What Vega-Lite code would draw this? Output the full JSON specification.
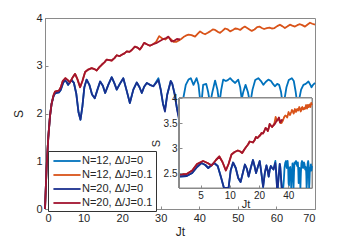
{
"$schema": "https://vega.github.io/schema/vega-lite/v6.json",
"width": 270, "height": 191,
"autosize": {"type": "none"},
"padding": {"left": 45, "top": 18, "right": 34, "bottom": 35},
"background": "white",
"config": {
  "font": "Liberation Sans",
  "view": {"stroke": "#8a8a8a", "strokeWidth": 1},
  "axis": {"grid": false, "domainColor": "#8a8a8a", "tickColor": "#8a8a8a", "labelColor": "#262626", "titleColor": "#262626", "labelFont": "Liberation Sans", "titleFont": "Liberation Sans", "titleFontWeight": "normal", "labelFontSize": 11, "titleFontSize": 12},
  "legend": {"orient": "none", "legendX": 3, "legendY": 133, "strokeColor": "#333333", "fillColor": "white", "padding": 3, "rowPadding": 2, "labelFontSize": 11, "labelColor": "#262626", "labelFont": "Liberation Sans", "symbolType": "M-2.4,0L2.4,0", "symbolSize": 128, "symbolOffset": 9, "labelOffset": 8}
},
"datasets": {
"d": [
{"series":"N=12, Δ/J=0","t":0,"S":0},{"series":"N=12, Δ/J=0","t":0.4,"S":0.85},{"series":"N=12, Δ/J=0","t":0.85,"S":1.5},{"series":"N=12, Δ/J=0","t":1.3,"S":1.95},{"series":"N=12, Δ/J=0","t":1.7,"S":2.2},{"series":"N=12, Δ/J=0","t":2.2,"S":2.36},{"series":"N=12, Δ/J=0","t":2.6,"S":2.42},{"series":"N=12, Δ/J=0","t":3,"S":2.43},{"series":"N=12, Δ/J=0","t":3.6,"S":2.44},{"series":"N=12, Δ/J=0","t":4.1,"S":2.5},{"series":"N=12, Δ/J=0","t":4.6,"S":2.62},{"series":"N=12, Δ/J=0","t":5.1,"S":2.7},{"series":"N=12, Δ/J=0","t":5.6,"S":2.66},{"series":"N=12, Δ/J=0","t":6,"S":2.6},{"series":"N=12, Δ/J=0","t":6.5,"S":2.66},{"series":"N=12, Δ/J=0","t":6.9,"S":2.7},{"series":"N=12, Δ/J=0","t":7.5,"S":2.64},{"series":"N=12, Δ/J=0","t":8.1,"S":2.42},{"series":"N=12, Δ/J=0","t":8.7,"S":2.02},{"series":"N=12, Δ/J=0","t":9.2,"S":1.87},{"series":"N=12, Δ/J=0","t":9.7,"S":2.15},{"series":"N=12, Δ/J=0","t":10.2,"S":2.55},{"series":"N=12, Δ/J=0","t":10.8,"S":2.71},{"series":"N=12, Δ/J=0","t":11.5,"S":2.6},{"series":"N=12, Δ/J=0","t":12.2,"S":2.4},{"series":"N=12, Δ/J=0","t":12.9,"S":2.32},{"series":"N=12, Δ/J=0","t":13.6,"S":2.5},{"series":"N=12, Δ/J=0","t":14.3,"S":2.67},{"series":"N=12, Δ/J=0","t":15,"S":2.58},{"series":"N=12, Δ/J=0","t":15.6,"S":2.43},{"series":"N=12, Δ/J=0","t":16.4,"S":2.6},{"series":"N=12, Δ/J=0","t":17.3,"S":2.76},{"series":"N=12, Δ/J=0","t":18,"S":2.63},{"series":"N=12, Δ/J=0","t":18.6,"S":2.5},{"series":"N=12, Δ/J=0","t":19.4,"S":2.62},{"series":"N=12, Δ/J=0","t":20.3,"S":2.74},{"series":"N=12, Δ/J=0","t":21.1,"S":2.5},{"series":"N=12, Δ/J=0","t":22,"S":2.22},{"series":"N=12, Δ/J=0","t":22.9,"S":2.5},{"series":"N=12, Δ/J=0","t":23.8,"S":2.65},{"series":"N=12, Δ/J=0","t":24.5,"S":2.55},{"series":"N=12, Δ/J=0","t":25.1,"S":2.43},{"series":"N=12, Δ/J=0","t":25.7,"S":2.56},{"series":"N=12, Δ/J=0","t":26.4,"S":2.64},{"series":"N=12, Δ/J=0","t":27.2,"S":2.6},{"series":"N=12, Δ/J=0","t":28.1,"S":2.57},
{"series":"N=12, Δ/J=0","t":28.8,"S":2.66},{"series":"N=12, Δ/J=0","t":29.4,"S":2.74},{"series":"N=12, Δ/J=0","t":30,"S":2.5},{"series":"N=12, Δ/J=0","t":30.6,"S":2.2},{"series":"N=12, Δ/J=0","t":31.1,"S":2.08},{"series":"N=12, Δ/J=0","t":31.7,"S":2.4},{"series":"N=12, Δ/J=0","t":32.6,"S":2.68},{"series":"N=12, Δ/J=0","t":33,"S":2.62},{"series":"N=12, Δ/J=0","t":33.6,"S":2.42},{"series":"N=12, Δ/J=0","t":34.2,"S":2.12},{"series":"N=12, Δ/J=0","t":34.8,"S":1.9},{"series":"N=12, Δ/J=0","t":35.4,"S":2.1},{"series":"N=12, Δ/J=0","t":35.9,"S":2.34},{"series":"N=12, Δ/J=0","t":36.5,"S":2.6},{"series":"N=12, Δ/J=0","t":37.2,"S":2.71},{"series":"N=12, Δ/J=0","t":37.8,"S":2.74},{"series":"N=12, Δ/J=0","t":38.5,"S":2.6},{"series":"N=12, Δ/J=0","t":39.3,"S":2.74},{"series":"N=12, Δ/J=0","t":39.8,"S":2.6},{"series":"N=12, Δ/J=0","t":40.2,"S":2.3},{"series":"N=12, Δ/J=0","t":40.6,"S":2.25},{"series":"N=12, Δ/J=0","t":41,"S":2.6},{"series":"N=12, Δ/J=0","t":41.8,"S":2.62},{"series":"N=12, Δ/J=0","t":42.3,"S":2.45},{"series":"N=12, Δ/J=0","t":42.8,"S":2.2},{"series":"N=12, Δ/J=0","t":43.4,"S":2.45},{"series":"N=12, Δ/J=0","t":44.1,"S":2.69},{"series":"N=12, Δ/J=0","t":44.7,"S":2.5},{"series":"N=12, Δ/J=0","t":45.2,"S":2.2},{"series":"N=12, Δ/J=0","t":45.7,"S":2.5},{"series":"N=12, Δ/J=0","t":46.2,"S":2.71},{"series":"N=12, Δ/J=0","t":46.9,"S":2.68},{"series":"N=12, Δ/J=0","t":47.4,"S":2.7},{"series":"N=12, Δ/J=0","t":48,"S":2.74},{"series":"N=12, Δ/J=0","t":48.7,"S":2.68},{"series":"N=12, Δ/J=0","t":49.3,"S":2.64},{"series":"N=12, Δ/J=0","t":50.1,"S":2.71},{"series":"N=12, Δ/J=0","t":50.6,"S":2.55},{"series":"N=12, Δ/J=0","t":51,"S":2.3},{"series":"N=12, Δ/J=0","t":51.4,"S":2.45},{"series":"N=12, Δ/J=0","t":52,"S":2.6},{"series":"N=12, Δ/J=0","t":52.6,"S":2.45},{"series":"N=12, Δ/J=0","t":53.2,"S":2.2},{"series":"N=12, Δ/J=0","t":53.8,"S":2.5},{"series":"N=12, Δ/J=0","t":54.5,"S":2.7},{"series":"N=12, Δ/J=0","t":55.3,"S":2.74},{"series":"N=12, Δ/J=0","t":56,"S":2.68},{"series":"N=12, Δ/J=0","t":56.6,"S":2.6},{"series":"N=12, Δ/J=0","t":57.2,"S":2.66},{"series":"N=12, Δ/J=0","t":57.9,"S":2.71},{"series":"N=12, Δ/J=0","t":58.6,"S":2.68},{"series":"N=12, Δ/J=0","t":59.1,"S":2.62},{"series":"N=12, Δ/J=0","t":59.6,"S":2.57},{"series":"N=12, Δ/J=0","t":60.2,"S":2.62},{"series":"N=12, Δ/J=0","t":60.7,"S":2.6},{"series":"N=12, Δ/J=0","t":61.2,"S":2.45},{"series":"N=12, Δ/J=0","t":61.6,"S":2.2},{"series":"N=12, Δ/J=0","t":62.1,"S":2.3},{"series":"N=12, Δ/J=0","t":62.6,"S":2.55},{"series":"N=12, Δ/J=0","t":63.2,"S":2.7},{"series":"N=12, Δ/J=0","t":64,"S":2.74},{"series":"N=12, Δ/J=0","t":64.5,"S":2.68},{"series":"N=12, Δ/J=0","t":65,"S":2.45},{"series":"N=12, Δ/J=0","t":65.4,"S":2.2},{"series":"N=12, Δ/J=0","t":65.9,"S":2.3},{"series":"N=12, Δ/J=0","t":66.4,"S":2.5},{"series":"N=12, Δ/J=0","t":67,"S":2.6},{"series":"N=12, Δ/J=0","t":67.6,"S":2.62},{"series":"N=12, Δ/J=0","t":68.3,"S":2.67},{"series":"N=12, Δ/J=0","t":68.8,"S":2.6},{"series":"N=12, Δ/J=0","t":69.1,"S":2.55},{"series":"N=12, Δ/J=0","t":69.5,"S":2.6},{"series":"N=12, Δ/J=0","t":70,"S":2.64},

{"series":"N=12, Δ/J=0.1","t":0,"S":0},{"series":"N=12, Δ/J=0.1","t":0.4,"S":0.85},{"series":"N=12, Δ/J=0.1","t":0.85,"S":1.5},{"series":"N=12, Δ/J=0.1","t":1.3,"S":1.95},{"series":"N=12, Δ/J=0.1","t":1.7,"S":2.2},{"series":"N=12, Δ/J=0.1","t":2.2,"S":2.38},{"series":"N=12, Δ/J=0.1","t":2.6,"S":2.46},{"series":"N=12, Δ/J=0.1","t":3,"S":2.47},{"series":"N=12, Δ/J=0.1","t":3.6,"S":2.48},{"series":"N=12, Δ/J=0.1","t":4.1,"S":2.55},{"series":"N=12, Δ/J=0.1","t":4.6,"S":2.68},{"series":"N=12, Δ/J=0.1","t":5.3,"S":2.74},{"series":"N=12, Δ/J=0.1","t":5.9,"S":2.7},{"series":"N=12, Δ/J=0.1","t":6.5,"S":2.65},{"series":"N=12, Δ/J=0.1","t":7.2,"S":2.76},{"series":"N=12, Δ/J=0.1","t":7.8,"S":2.83},{"series":"N=12, Δ/J=0.1","t":8.4,"S":2.72},{"series":"N=12, Δ/J=0.1","t":9.1,"S":2.55},{"series":"N=12, Δ/J=0.1","t":9.7,"S":2.68},{"series":"N=12, Δ/J=0.1","t":10.4,"S":2.87},{"series":"N=12, Δ/J=0.1","t":11.2,"S":2.92},{"series":"N=12, Δ/J=0.1","t":12.1,"S":2.95},{"series":"N=12, Δ/J=0.1","t":12.8,"S":2.93},{"series":"N=12, Δ/J=0.1","t":13.4,"S":2.9},{"series":"N=12, Δ/J=0.1","t":14.1,"S":2.97},{"series":"N=12, Δ/J=0.1","t":14.7,"S":3.02},{"series":"N=12, Δ/J=0.1","t":15.4,"S":3.07},{"series":"N=12, Δ/J=0.1","t":16,"S":3.13},{"series":"N=12, Δ/J=0.1","t":16.7,"S":3.12},{"series":"N=12, Δ/J=0.1","t":17.3,"S":3.11},{"series":"N=12, Δ/J=0.1","t":18,"S":3.16},{"series":"N=12, Δ/J=0.1","t":18.6,"S":3.22},{"series":"N=12, Δ/J=0.1","t":19.3,"S":3.2},{"series":"N=12, Δ/J=0.1","t":19.9,"S":3.23},{"series":"N=12, Δ/J=0.1","t":20.6,"S":3.26},{"series":"N=12, Δ/J=0.1","t":21.2,"S":3.3},{"series":"N=12, Δ/J=0.1","t":21.9,"S":3.29},{"series":"N=12, Δ/J=0.1","t":22.5,"S":3.33},{"series":"N=12, Δ/J=0.1","t":23.3,"S":3.4},{"series":"N=12, Δ/J=0.1","t":24,"S":3.38},{"series":"N=12, Δ/J=0.1","t":24.6,"S":3.34},{"series":"N=12, Δ/J=0.1","t":25.2,"S":3.41},{"series":"N=12, Δ/J=0.1","t":25.7,"S":3.48},{"series":"N=12, Δ/J=0.1","t":26.4,"S":3.45},{"series":"N=12, Δ/J=0.1","t":27.2,"S":3.42},{"series":"N=12, Δ/J=0.1","t":28,"S":3.45},
{"series":"N=12, Δ/J=0.1","t":28.8,"S":3.5},{"series":"N=12, Δ/J=0.1","t":29.6,"S":3.62},{"series":"N=12, Δ/J=0.1","t":30.4,"S":3.57},{"series":"N=12, Δ/J=0.1","t":31.2,"S":3.55},{"series":"N=12, Δ/J=0.1","t":32,"S":3.6},{"series":"N=12, Δ/J=0.1","t":32.7,"S":3.55},{"series":"N=12, Δ/J=0.1","t":33.3,"S":3.5},{"series":"N=12, Δ/J=0.1","t":34,"S":3.5},{"series":"N=12, Δ/J=0.1","t":34.7,"S":3.53},{"series":"N=12, Δ/J=0.1","t":35.3,"S":3.56},{"series":"N=12, Δ/J=0.1","t":35.9,"S":3.6},{"series":"N=12, Δ/J=0.1","t":36.5,"S":3.63},{"series":"N=12, Δ/J=0.1","t":37.2,"S":3.65},{"series":"N=12, Δ/J=0.1","t":38,"S":3.64},{"series":"N=12, Δ/J=0.1","t":38.9,"S":3.61},{"series":"N=12, Δ/J=0.1","t":39.5,"S":3.66},{"series":"N=12, Δ/J=0.1","t":40.2,"S":3.72},{"series":"N=12, Δ/J=0.1","t":40.9,"S":3.68},{"series":"N=12, Δ/J=0.1","t":41.5,"S":3.66},{"series":"N=12, Δ/J=0.1","t":42.2,"S":3.69},{"series":"N=12, Δ/J=0.1","t":42.8,"S":3.72},{"series":"N=12, Δ/J=0.1","t":43.5,"S":3.76},{"series":"N=12, Δ/J=0.1","t":44.1,"S":3.75},{"series":"N=12, Δ/J=0.1","t":44.8,"S":3.71},{"series":"N=12, Δ/J=0.1","t":45.4,"S":3.69},{"series":"N=12, Δ/J=0.1","t":46,"S":3.73},{"series":"N=12, Δ/J=0.1","t":46.7,"S":3.78},{"series":"N=12, Δ/J=0.1","t":47.4,"S":3.76},{"series":"N=12, Δ/J=0.1","t":48,"S":3.72},{"series":"N=12, Δ/J=0.1","t":48.7,"S":3.75},{"series":"N=12, Δ/J=0.1","t":49.3,"S":3.78},{"series":"N=12, Δ/J=0.1","t":50,"S":3.77},{"series":"N=12, Δ/J=0.1","t":50.6,"S":3.75},{"series":"N=12, Δ/J=0.1","t":51.2,"S":3.79},{"series":"N=12, Δ/J=0.1","t":51.8,"S":3.82},{"series":"N=12, Δ/J=0.1","t":52.4,"S":3.79},{"series":"N=12, Δ/J=0.1","t":53,"S":3.76},{"series":"N=12, Δ/J=0.1","t":53.6,"S":3.73},{"series":"N=12, Δ/J=0.1","t":54.3,"S":3.76},{"series":"N=12, Δ/J=0.1","t":55,"S":3.81},{"series":"N=12, Δ/J=0.1","t":55.6,"S":3.82},{"series":"N=12, Δ/J=0.1","t":56.2,"S":3.79},{"series":"N=12, Δ/J=0.1","t":56.8,"S":3.77},{"series":"N=12, Δ/J=0.1","t":57.5,"S":3.79},{"series":"N=12, Δ/J=0.1","t":58.2,"S":3.8},{"series":"N=12, Δ/J=0.1","t":58.8,"S":3.78},{"series":"N=12, Δ/J=0.1","t":59.5,"S":3.79},{"series":"N=12, Δ/J=0.1","t":60.2,"S":3.83},{"series":"N=12, Δ/J=0.1","t":60.9,"S":3.86},{"series":"N=12, Δ/J=0.1","t":61.5,"S":3.83},{"series":"N=12, Δ/J=0.1","t":62.2,"S":3.79},{"series":"N=12, Δ/J=0.1","t":62.8,"S":3.82},{"series":"N=12, Δ/J=0.1","t":63.5,"S":3.86},{"series":"N=12, Δ/J=0.1","t":64.1,"S":3.84},{"series":"N=12, Δ/J=0.1","t":64.8,"S":3.82},{"series":"N=12, Δ/J=0.1","t":65.4,"S":3.85},{"series":"N=12, Δ/J=0.1","t":66.1,"S":3.87},{"series":"N=12, Δ/J=0.1","t":66.7,"S":3.85},{"series":"N=12, Δ/J=0.1","t":67.4,"S":3.82},{"series":"N=12, Δ/J=0.1","t":68,"S":3.86},{"series":"N=12, Δ/J=0.1","t":68.7,"S":3.9},{"series":"N=12, Δ/J=0.1","t":69.3,"S":3.88},{"series":"N=12, Δ/J=0.1","t":70,"S":3.86},

{"series":"N=20, Δ/J=0","t":0,"S":0},{"series":"N=20, Δ/J=0","t":0.4,"S":0.85},{"series":"N=20, Δ/J=0","t":0.85,"S":1.5},{"series":"N=20, Δ/J=0","t":1.3,"S":1.95},{"series":"N=20, Δ/J=0","t":1.7,"S":2.2},{"series":"N=20, Δ/J=0","t":2.2,"S":2.36},{"series":"N=20, Δ/J=0","t":2.6,"S":2.42},{"series":"N=20, Δ/J=0","t":3,"S":2.43},{"series":"N=20, Δ/J=0","t":3.6,"S":2.44},{"series":"N=20, Δ/J=0","t":4.1,"S":2.5},{"series":"N=20, Δ/J=0","t":4.6,"S":2.62},{"series":"N=20, Δ/J=0","t":5.1,"S":2.7},{"series":"N=20, Δ/J=0","t":5.6,"S":2.66},{"series":"N=20, Δ/J=0","t":6,"S":2.6},{"series":"N=20, Δ/J=0","t":6.5,"S":2.66},{"series":"N=20, Δ/J=0","t":6.9,"S":2.7},{"series":"N=20, Δ/J=0","t":7.5,"S":2.64},{"series":"N=20, Δ/J=0","t":8.1,"S":2.42},{"series":"N=20, Δ/J=0","t":8.7,"S":2.02},{"series":"N=20, Δ/J=0","t":9.2,"S":1.87},{"series":"N=20, Δ/J=0","t":9.7,"S":2.15},{"series":"N=20, Δ/J=0","t":10.2,"S":2.55},{"series":"N=20, Δ/J=0","t":10.8,"S":2.71},{"series":"N=20, Δ/J=0","t":11.5,"S":2.6},{"series":"N=20, Δ/J=0","t":12.2,"S":2.4},{"series":"N=20, Δ/J=0","t":12.9,"S":2.32},{"series":"N=20, Δ/J=0","t":13.6,"S":2.5},{"series":"N=20, Δ/J=0","t":14.3,"S":2.67},{"series":"N=20, Δ/J=0","t":15,"S":2.58},{"series":"N=20, Δ/J=0","t":15.6,"S":2.43},{"series":"N=20, Δ/J=0","t":16.4,"S":2.6},{"series":"N=20, Δ/J=0","t":17.3,"S":2.76},{"series":"N=20, Δ/J=0","t":18,"S":2.63},{"series":"N=20, Δ/J=0","t":18.6,"S":2.5},{"series":"N=20, Δ/J=0","t":19.4,"S":2.62},{"series":"N=20, Δ/J=0","t":20.3,"S":2.74},{"series":"N=20, Δ/J=0","t":21.1,"S":2.5},{"series":"N=20, Δ/J=0","t":22,"S":2.22},{"series":"N=20, Δ/J=0","t":22.9,"S":2.5},{"series":"N=20, Δ/J=0","t":23.8,"S":2.65},{"series":"N=20, Δ/J=0","t":24.5,"S":2.55},{"series":"N=20, Δ/J=0","t":25.1,"S":2.43},{"series":"N=20, Δ/J=0","t":25.7,"S":2.56},{"series":"N=20, Δ/J=0","t":26.4,"S":2.64},{"series":"N=20, Δ/J=0","t":27.2,"S":2.6},{"series":"N=20, Δ/J=0","t":28.1,"S":2.57},{"series":"N=20, Δ/J=0","t":28.8,"S":2.64},{"series":"N=20, Δ/J=0","t":29.4,"S":2.7},{"series":"N=20, Δ/J=0","t":30,"S":2.5},{"series":"N=20, Δ/J=0","t":30.6,"S":2.2},{"series":"N=20, Δ/J=0","t":31.1,"S":2.04},{"series":"N=20, Δ/J=0","t":31.7,"S":2.4},{"series":"N=20, Δ/J=0","t":32.6,"S":2.68},{"series":"N=20, Δ/J=0","t":33,"S":2.62},{"series":"N=20, Δ/J=0","t":33.6,"S":2.4},{"series":"N=20, Δ/J=0","t":34.2,"S":2.1},{"series":"N=20, Δ/J=0","t":34.8,"S":1.85},{"series":"N=20, Δ/J=0","t":35.2,"S":1.9},

{"series":"N=20, Δ/J=0.1","t":0,"S":0},{"series":"N=20, Δ/J=0.1","t":0.4,"S":0.85},{"series":"N=20, Δ/J=0.1","t":0.85,"S":1.5},{"series":"N=20, Δ/J=0.1","t":1.3,"S":1.95},{"series":"N=20, Δ/J=0.1","t":1.7,"S":2.2},{"series":"N=20, Δ/J=0.1","t":2.2,"S":2.38},{"series":"N=20, Δ/J=0.1","t":2.6,"S":2.46},{"series":"N=20, Δ/J=0.1","t":3,"S":2.47},{"series":"N=20, Δ/J=0.1","t":3.6,"S":2.48},{"series":"N=20, Δ/J=0.1","t":4.1,"S":2.55},{"series":"N=20, Δ/J=0.1","t":4.6,"S":2.68},{"series":"N=20, Δ/J=0.1","t":5.3,"S":2.74},{"series":"N=20, Δ/J=0.1","t":5.9,"S":2.7},{"series":"N=20, Δ/J=0.1","t":6.5,"S":2.65},{"series":"N=20, Δ/J=0.1","t":7.2,"S":2.76},{"series":"N=20, Δ/J=0.1","t":7.8,"S":2.83},{"series":"N=20, Δ/J=0.1","t":8.4,"S":2.72},{"series":"N=20, Δ/J=0.1","t":9.1,"S":2.55},{"series":"N=20, Δ/J=0.1","t":9.7,"S":2.68},{"series":"N=20, Δ/J=0.1","t":10.4,"S":2.87},{"series":"N=20, Δ/J=0.1","t":11.2,"S":2.92},{"series":"N=20, Δ/J=0.1","t":12.1,"S":2.95},{"series":"N=20, Δ/J=0.1","t":12.8,"S":2.93},{"series":"N=20, Δ/J=0.1","t":13.4,"S":2.9},{"series":"N=20, Δ/J=0.1","t":14.1,"S":2.97},{"series":"N=20, Δ/J=0.1","t":14.7,"S":3.02},{"series":"N=20, Δ/J=0.1","t":15.4,"S":3.07},{"series":"N=20, Δ/J=0.1","t":16,"S":3.13},{"series":"N=20, Δ/J=0.1","t":16.7,"S":3.12},{"series":"N=20, Δ/J=0.1","t":17.3,"S":3.11},{"series":"N=20, Δ/J=0.1","t":18,"S":3.16},{"series":"N=20, Δ/J=0.1","t":18.6,"S":3.22},{"series":"N=20, Δ/J=0.1","t":19.3,"S":3.2},{"series":"N=20, Δ/J=0.1","t":19.9,"S":3.23},{"series":"N=20, Δ/J=0.1","t":20.6,"S":3.26},{"series":"N=20, Δ/J=0.1","t":21.2,"S":3.3},{"series":"N=20, Δ/J=0.1","t":21.9,"S":3.29},{"series":"N=20, Δ/J=0.1","t":22.5,"S":3.33},{"series":"N=20, Δ/J=0.1","t":23.3,"S":3.4},{"series":"N=20, Δ/J=0.1","t":24,"S":3.38},{"series":"N=20, Δ/J=0.1","t":24.6,"S":3.34},{"series":"N=20, Δ/J=0.1","t":25.2,"S":3.41},{"series":"N=20, Δ/J=0.1","t":25.7,"S":3.48},{"series":"N=20, Δ/J=0.1","t":26.4,"S":3.45},{"series":"N=20, Δ/J=0.1","t":27.2,"S":3.42},{"series":"N=20, Δ/J=0.1","t":28,"S":3.45},{"series":"N=20, Δ/J=0.1","t":29,"S":3.48},{"series":"N=20, Δ/J=0.1","t":29.8,"S":3.52},{"series":"N=20, Δ/J=0.1","t":30.7,"S":3.56},{"series":"N=20, Δ/J=0.1","t":31.4,"S":3.58},{"series":"N=20, Δ/J=0.1","t":32,"S":3.61},{"series":"N=20, Δ/J=0.1","t":32.8,"S":3.51},{"series":"N=20, Δ/J=0.1","t":33.4,"S":3.52},{"series":"N=20, Δ/J=0.1","t":34.2,"S":3.56},{"series":"N=20, Δ/J=0.1","t":35,"S":3.55}
]
},
"data": {"name": "d"},
"layer": [
  {
    "mark": {"type": "line", "strokeJoin": "round"},
    "encoding": {
      "x": {"field": "t", "type": "quantitative", "scale": {"domain": [0, 70], "nice": false}, "axis": {"values": [0,10,20,30,40,50,60,70], "title": "Jt", "tickSize": -3, "labelPadding": 6, "titlePadding": 3}},
      "y": {"field": "S", "type": "quantitative", "scale": {"domain": [0, 4], "nice": false}, "axis": {"values": [0,1,2,3,4], "title": "S", "tickSize": -3, "labelPadding": 6, "titlePadding": 10}},
      "color": {"field": "series", "type": "nominal", "scale": {"domain": ["N=12, Δ/J=0", "N=12, Δ/J=0.1", "N=20, Δ/J=0", "N=20, Δ/J=0.1"], "range": ["#0072BD", "#D95319", "#1A2F8E", "#A2142F"]}, "legend": {"title": null}},
      "strokeWidth": {"field": "series", "type": "nominal", "scale": {"domain": ["N=12, Δ/J=0", "N=12, Δ/J=0.1", "N=20, Δ/J=0", "N=20, Δ/J=0.1"], "range": [1.8, 1.8, 3, 3]}, "legend": {"title": null}}
    }
  },
  {
    "layer": [
      {
        "mark": {"type": "rect", "fill": "white", "stroke": "#8a8a8a", "strokeWidth": 1},
        "encoding": {
          "x": {"datum": 3, "type": "quantitative", "scale": {"type": "log", "domain": [3, 70], "range": [134, 267], "clamp": true, "nice": false}, "axis": {"orient": "bottom", "offset": -21, "values": [5,10,20,40], "format": "d", "title": "Jt", "labelFontSize": 10, "titleFontSize": 11, "tickSize": -3, "labelPadding": 5, "titlePadding": -2, "zindex": 1}},
          "x2": {"datum": 70},
          "y": {"datum": 2.2, "type": "quantitative", "scale": {"domain": [2.2, 4], "range": [170, 80], "clamp": true, "nice": false}, "axis": {"orient": "left", "offset": -134, "values": [2.5,3,3.5,4], "format": "~g", "title": "S", "labelFontSize": 10, "titleFontSize": 11, "tickSize": -3, "labelPadding": 5, "titlePadding": 2, "zindex": 1}},
          "y2": {"datum": 4}
        }
      },
      {
        "transform": [{"filter": "datum.t >= 3"}],
        "mark": {"type": "line", "strokeJoin": "round"},
        "encoding": {
          "x": {"field": "t", "type": "quantitative"},
          "y": {"field": "S", "type": "quantitative"},
          "color": {"field": "series", "type": "nominal"},
          "strokeWidth": {"field": "series", "type": "nominal"}
        }
      }
    ]
  }
],
"resolve": {"scale": {"x": "independent", "y": "independent"}}
}
